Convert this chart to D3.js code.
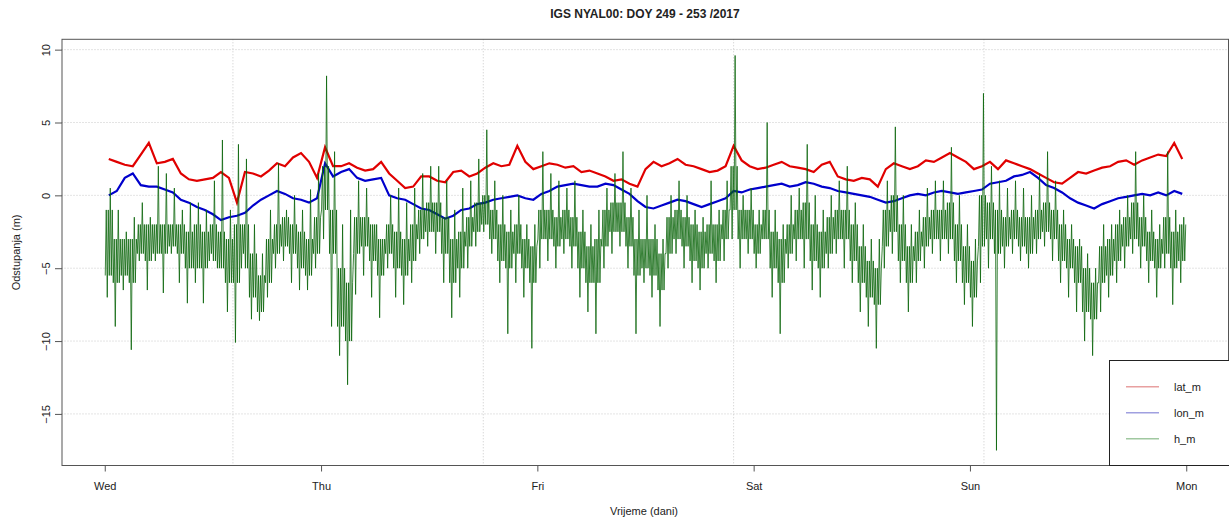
<!DOCTYPE html>
<html><head><meta charset="utf-8">
<script src="https://cdn.jsdelivr.net/npm/d3@7"></script>
<style>body{margin:0;background:#fff}svg{display:block}text{font-family:"Liberation Sans",Arial,sans-serif;fill:#222}</style>
</head><body>
<svg id="chart" width="1229" height="524"></svg>
<script>
const titleText = "IGS NYAL00: DOY 249 - 253 /2017";
const dayLabels = ["Wed","Thu","Fri","Sat","Sun","Mon"];
const yTicks = [-15,-10,-5,0,5,10];
const gridDays = [0.5926, 1.75, 2.9074, 4.0648];
const seriesNames = ["lat_m","lon_m","h_m"];
const binDays = 1/27;
const latM = [2.5,2.3,2.1,2.0,2.8,3.6,2.2,2.3,2.5,1.5,
1.1,1.0,1.1,1.2,1.6,1.2,-0.5,1.6,1.5,1.3,
1.7,2.2,2.0,2.6,2.9,2.3,1.2,3.3,2.0,2.0,
2.2,1.9,1.7,1.8,2.3,1.5,1.0,0.5,0.6,1.3,
1.3,1.0,0.9,1.6,1.7,1.3,1.5,1.9,2.2,2.0,
2.1,3.4,2.3,1.8,2.0,2.2,2.1,1.9,2.0,1.6,
1.7,1.5,1.3,1.0,1.1,0.8,0.6,1.8,2.3,2.0,
2.2,2.5,2.1,2.0,1.8,1.6,1.7,2.0,3.4,2.4,
2.0,1.8,1.9,2.1,2.3,2.0,1.9,1.8,1.6,2.1,
2.3,1.3,1.1,1.0,1.2,1.1,0.6,1.8,2.2,2.0,
1.8,2.0,2.4,2.3,2.6,2.9,2.6,2.3,1.8,2.0,
2.3,1.8,2.4,2.2,2.0,1.8,1.5,1.2,0.9,0.8,
1.2,1.6,1.5,1.7,1.9,2.0,2.3,2.4,2.1,2.4,
2.6,2.8,2.7,3.6,2.5];
const lonM = [0.0,0.3,1.2,1.5,0.7,0.6,0.6,0.4,0.2,-0.3,
-0.5,-0.8,-1.0,-1.3,-1.7,-1.5,-1.4,-1.2,-0.7,-0.3,
0.0,0.3,0.1,-0.2,-0.3,-0.5,-0.2,2.2,1.3,1.6,
1.8,1.2,1.0,1.1,1.2,0.0,-0.2,-0.3,-0.6,-0.9,
-1.0,-1.3,-1.6,-1.4,-1.0,-0.9,-0.6,-0.5,-0.3,-0.2,
-0.1,0.0,-0.2,-0.3,0.1,0.3,0.6,0.7,0.8,0.7,
0.6,0.6,0.8,0.7,0.4,0.1,-0.4,-0.8,-0.9,-0.7,
-0.5,-0.3,-0.4,-0.6,-0.8,-0.6,-0.4,-0.2,0.3,0.2,
0.4,0.5,0.6,0.7,0.8,0.6,0.7,0.9,0.8,0.6,
0.5,0.3,0.2,0.1,0.0,-0.1,-0.3,-0.5,-0.4,-0.2,
0.0,0.1,0.0,0.2,0.3,0.2,0.1,0.2,0.3,0.4,
0.8,0.9,1.0,1.3,1.4,1.6,1.2,0.7,0.5,0.2,
-0.2,-0.5,-0.7,-0.9,-0.6,-0.4,-0.2,-0.1,0.0,0.1,
0.0,0.2,0.0,0.3,0.1];
// h_m: extreme low / high per bin (spikes)
const hLo = [-7,-9,-6.5,-10.6,-4.5,-6.5,-4.5,-6.7,-4,-6,
-7.4,-6,-7.4,-4,-5,-8,-10.1,-4,-8.5,-8.6,
-7,-5,-4.5,-6,-6.5,-6.5,-5,-3,-9,-11,
-13,-6.8,-5.5,-7,-8.4,-5,-7,-7.5,-6,-4,
-3.5,-4,-6,-8.4,-7,-5,-3.5,-2.5,-4,-6,
-9.5,-6,-7,-10.5,-5,-4.5,-5,-4,-5,-7,
-8,-9.5,-5,-4,-3.5,-5,-9.5,-6,-7,-9,
-5,-4,-5,-6,-6.5,-5,-6,-4.5,-3,-5,
-4,-5,-3,-7,-9.5,-5,-4.5,-5,-6.5,-7,
-5,-4,-5,-6,-8,-9,-10.5,-5,-4,-6,
-8,-6,-5,-4,-4.5,-4,-6,-7.5,-9,-6,
-5,-17.5,-5,-4,-4.5,-5,-4,-3.5,-4.5,-6,
-7,-8,-10,-11,-8,-7,-6,-5,-4,-5,
-6,-7,-5,-7.5,-6];
const hHi = [0.5,-1,-2.5,-1.5,-0.5,-1.5,2,1.5,0.5,-1,
-0.5,-0.5,-1,1,3.8,-1,3.5,2.5,-2,-4,
-1,2.2,-1,0,-1,0.4,1.5,8.2,3,-2,
-1,1,0.5,-2,-3,0,0.5,-0.5,0.5,1.5,
2,2,1,-1,0.5,1,2.5,4.5,1,0,
-1,0,-2,-2,3,1.5,1,0.5,1,-1,
-2,-1,0.5,1.5,3,0.5,-1,0,-2,-3,
0,1,0,-1,-1.5,1,-1,1,9.6,0,
0.5,-1,5,-1,-2,0,0.5,3.5,0,-1,
0,1,2,-0.5,-2,-3,-3,1,4.7,0,
-2,-1,0.5,1,1,3.3,0,-2,-3,7,
2,1,0.5,1,0.5,0,1.5,3,1,-1,
-2,-3,-4,-5,-2,-2,-1,0,3,0,
-1,-2,3,-1,-1.5];
// h_m: dense core low / high per bin
const hCoreLo = [-5.5,-6,-5.5,-6,-4,-4.5,-4,-4,-3.5,-4,
-5,-5,-5,-4.5,-5,-6,-6,-5,-7,-8,
-6,-4,-3.5,-4,-5,-5.5,-4,-1,-4,-9,
-10,-4,-3.5,-4.5,-5.5,-4,-5,-5.5,-4.5,-3,
-2.5,-2.5,-4,-6,-5,-3.5,-2.5,-2,-3,-4.5,
-5,-4,-5,-6,-3,-3,-3.5,-3,-3.5,-5,
-6,-6,-3.5,-2.5,-2.5,-3.5,-5.5,-5,-5.5,-6.5,
-4,-3,-3.5,-4.5,-5,-4,-4.5,-3,-1,-3,
-3,-4,-3,-5,-6,-4,-3,-3,-4.5,-5,
-4,-3,-3,-4.5,-6,-7,-7.5,-3.5,-2.5,-4.5,
-6,-4.5,-3.5,-3,-3,-3,-4.5,-6,-7,-3.5,
-3,-4,-3.5,-3,-3.5,-4,-3,-2.5,-3,-4.5,
-5,-6,-8,-8.5,-6,-5.5,-4.5,-3.5,-3,-3.5,
-4.5,-5,-4,-5,-4.5];
const hCoreHi = [-1,-3,-3,-3,-2,-2,-2,-2,-2,-2,
-2.5,-2,-2.5,-2,-2.5,-3,-2,-2,-4,-5.5,
-3,-2,-1.5,-2,-2.5,-3,-1.5,2,-1,-5,
-6,-1.5,-1.5,-2,-3,-2,-2.5,-3,-2,-1,
-0.5,-0.5,-1.5,-3,-2.5,-1.5,-0.5,0,-1,-2,
-2.5,-2,-3,-3.5,-1,-1,-1.5,-1,-1.5,-2.5,
-3.5,-3,-1,-0.5,-0.5,-1.5,-3,-3,-3,-4,
-1.5,-1,-1.5,-2,-2.5,-2,-2,-1,2,-1,
-1,-2,-1,-2.5,-3,-2,-1,-0.5,-2,-2.5,
-1.5,-1,-1,-2,-3.5,-4.5,-5,-1,0,-2,
-3.5,-2.5,-1.5,-1,-1,-0.5,-2,-3.5,-4.5,0,
-0.5,-1,-1.5,-1,-1.5,-1.5,-1,-0.5,-1,-2,
-3,-3.5,-5,-6,-3.5,-3,-2,-1.5,-0.5,-1.5,
-2.5,-3,-1.5,-2.5,-2];

const svg = d3.select("#chart");
const W = 1229, H = 524;
svg.append("rect").attr("width",W).attr("height",H).attr("fill","#fff");
const plot = {left:61.5, right:1229.5, top:39.3, bottom:465.5};
const x = d3.scaleLinear().domain([-0.2,5.2]).range([plot.left, plot.right]);
const y = d3.scaleLinear().domain([-18.54,10.71]).range([plot.bottom, plot.top]);

// grid
const g = svg.append("g");
g.selectAll(".hg").data(yTicks).join("line")
  .attr("x1",plot.left).attr("x2",plot.right)
  .attr("y1",d=>y(d)).attr("y2",d=>y(d))
  .attr("stroke","#c8c8c8").attr("stroke-width",1).attr("stroke-dasharray","1,2");
g.selectAll(".vg").data(gridDays).join("line")
  .attr("y1",plot.top).attr("y2",plot.bottom)
  .attr("x1",d=>x(d)).attr("x2",d=>x(d))
  .attr("stroke","#c8c8c8").attr("stroke-width",1).attr("stroke-dasharray","1,2");

svg.append("clipPath").attr("id","clip").append("rect")
  .attr("x",plot.left).attr("y",plot.top)
  .attr("width",plot.right-plot.left).attr("height",plot.bottom-plot.top);

const lineGen = d3.line().x(d=>x(d[0])).y(d=>y(d[1]));
const latPts = latM.map((v,i)=>[(i+0.5)*binDays, v]);
const lonPts = lonM.map((v,i)=>[(i+0.5)*binDays, v]);
const hPts = [];
hLo.forEach((lo,i)=>{
  const cl = hCoreLo[i], ch = hCoreHi[i], hi = hHi[i];
  const seq = [cl, ch, lo, ch, cl, hi, cl, ch];
  seq.forEach((v,k)=>hPts.push([(i + (k+0.5)/seq.length)*binDays, v]));
});

const lines = svg.append("g").attr("clip-path","url(#clip)");
lines.append("path").attr("d",lineGen(latPts)).attr("fill","none").attr("stroke","#e00000").attr("stroke-width",2.2);
lines.append("path").attr("d",lineGen(lonPts)).attr("fill","none").attr("stroke","#0000cc").attr("stroke-width",2.2);
lines.append("path").attr("d",lineGen(hPts)).attr("fill","none").attr("stroke","#0a640a").attr("stroke-width",0.8);

// box
svg.append("rect").attr("x",plot.left+0.5).attr("y",plot.top).attr("width",plot.right-plot.left-1.5).attr("height",plot.bottom-plot.top)
  .attr("fill","none").attr("stroke","#555").attr("stroke-width",1);

// y axis
const yAxis = svg.append("g").attr("transform",`translate(${plot.left+0.5},0)`)
  .call(d3.axisLeft(y).tickValues(yTicks).tickSize(7).tickFormat(d3.format("d")));
yAxis.select(".domain").attr("stroke","none");
yAxis.selectAll(".tick line").attr("stroke","#555");
yAxis.selectAll(".tick text").attr("font-size",11).attr("fill","#222")
  .attr("dx",null).attr("dy",null).attr("text-anchor","middle")
  .attr("transform","rotate(-90)").attr("x",0).attr("y",-12.5);

// x axis
const xAxis = svg.append("g").attr("transform",`translate(0,${plot.bottom})`)
  .call(d3.axisBottom(x).tickValues(d3.range(dayLabels.length)).tickSize(6).tickFormat(i=>dayLabels[i]));
xAxis.select(".domain").attr("stroke","none");
xAxis.selectAll(".tick line").attr("stroke","#555");
xAxis.selectAll(".tick text").attr("font-size",11).attr("fill","#222").attr("y",17).attr("dy","0.71em");

// titles
svg.append("text").attr("x",645).attr("y",18).attr("text-anchor","middle")
  .attr("font-size",12).attr("font-weight","bold").text(titleText);
svg.append("text").attr("x",644).attr("y",515).attr("text-anchor","middle").attr("font-size",11).text("Vrijeme (dani)");
svg.append("text").attr("transform",`translate(20,${(plot.top+plot.bottom)/2}) rotate(-90)`)
  .attr("text-anchor","middle").attr("font-size",11).text("Odstupanja (m)");

// legend
const legColors = ["#e8a0a0","#a0a0e0","#a0c8a0"];
const leg = svg.append("g");
leg.append("rect").attr("x",1109.5).attr("y",360.5).attr("width",130).attr("height",plot.bottom-360.5)
  .attr("fill","#fff").attr("stroke","#222").attr("stroke-width",1);
const legY = d3.scalePoint().domain(seriesNames).range([386.7,438.7]);
seriesNames.forEach((n,i)=>{
  leg.append("line").attr("x1",1126).attr("x2",1159).attr("y1",legY(n)).attr("y2",legY(n))
    .attr("stroke",legColors[i]).attr("stroke-width",1.5);
  leg.append("text").attr("x",1174).attr("y",legY(n)).attr("dy","0.35em").attr("font-size",11).text(n);
});
</script>
</body></html>
